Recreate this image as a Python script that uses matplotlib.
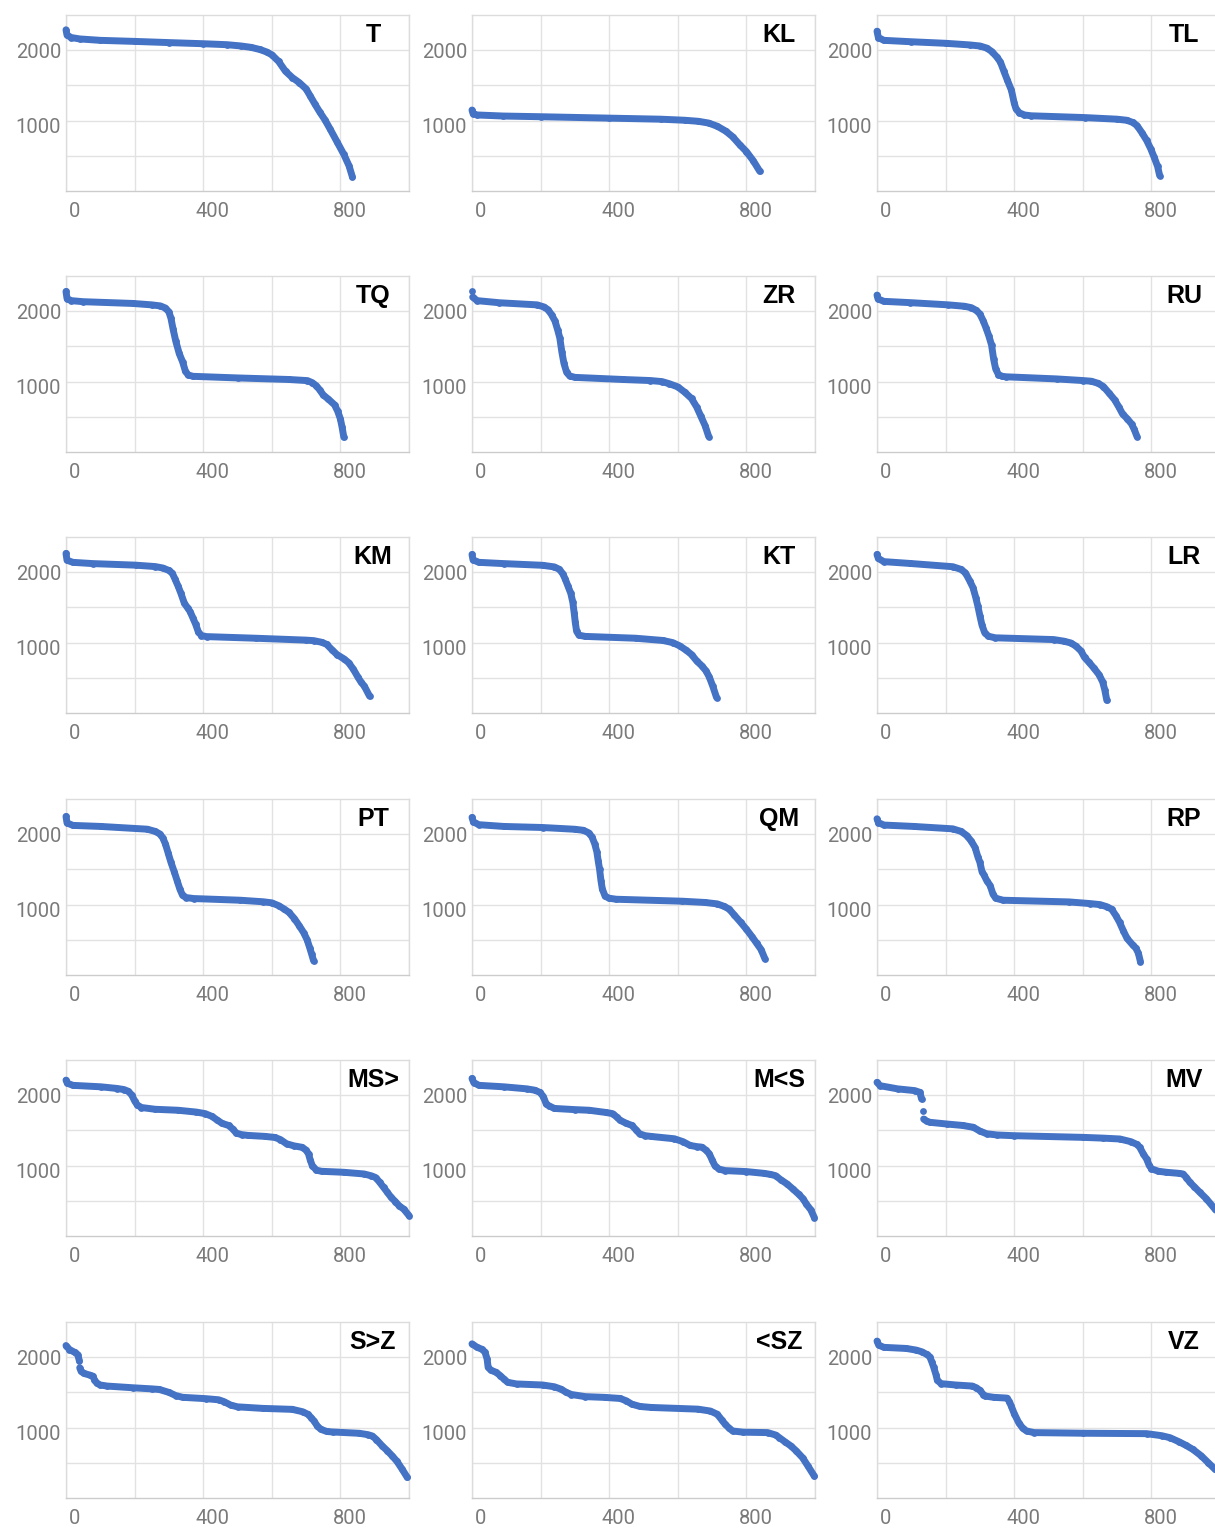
import numpy as np
import matplotlib.pyplot as plt
from matplotlib.transforms import ScaledTranslation

nan = np.nan

# ranked scores per group (rank on x, score on y); nan marks a gap between points
t_x = [0, 3, 15, 40, 100, 200, 300, 400, 470, 510, 540, 565, 585, 600, 620, 640, 660, 680, 700,
       712, 725, 740, 755, 770, 790, 810, 825, 835]
t_y = [2290, 2215, 2180, 2160, 2140, 2125, 2108, 2092, 2078, 2060, 2040, 2010, 1975, 1935, 1840, 1700, 1610, 1540, 1450,
       1350, 1240, 1120, 1010, 880, 700, 520, 360, 200]

kl_x = [0, 3, 15, 90, 200, 400, 550, 620, 660, 690, 715, 740, 760, 780, 800, 820, 839]
kl_y = [1150, 1100, 1080, 1065, 1055, 1035, 1020, 1005, 990, 965, 920, 850, 770, 660, 560, 430, 280]

tl_x = [0, 4, 20, 100, 200, 270, 300, 320, 335, 350, 360, 370, 380, 392, 400, 405, 415, 430, 450,
        605, 700, 728, 745, 758, 772, 786, 798, 808, 818, 824]
tl_y = [2270, 2180, 2140, 2120, 2098, 2075, 2060, 2030, 1980, 1900, 1830, 1700, 1575, 1430, 1250, 1170, 1110, 1080, 1068,
        1043, 1020, 1005, 975, 930, 830, 720, 600, 480, 350, 220]

tq_x = [0, 3, 15, 50, 195, 250, 275, 290, 300, 306, 312, 320, 330, 340, 348, 356, 370,
        500, 650, 704, 718, 730, 740, 750, 765, 783, 792, 800, 805, 810]
tq_y = [2280, 2180, 2150, 2135, 2110, 2090, 2075, 2045, 1990, 1900, 1750, 1575, 1400, 1280, 1150, 1095, 1075,
        1052, 1030, 1014, 985, 940, 880, 810, 750, 670, 580, 470, 350, 210]

zr_x = [0, nan, 2, 15, 80, 190, 210, 222, 232, 242, 250, 256, 262, 268, 276, 285, 300,
        440, 520, 554, 575, 600, 620, 640, 655, 667, 680, 690]
zr_y = [2290, nan, 2200, 2150, 2120, 2090, 2060, 2020, 1950, 1860, 1730, 1620, 1420, 1260, 1130, 1080, 1060,
        1030, 1015, 1000, 970, 925, 850, 760, 640, 510, 370, 220]

ru_x = [0, 3, 20, 95, 208, 255, 275, 290, 300, 310, 318, 326, 334, 340, 346, 354, 365, 377,
        524, 600, 625, 645, 660, 676, 693, 705, 716, 730, 742, 750, 758]
ru_y = [2229, 2175, 2140, 2122, 2090, 2070, 2050, 2010, 1960, 1860, 1760, 1650, 1520, 1320, 1180, 1100, 1075, 1068,
        1038, 1015, 1005, 975, 930, 840, 740, 640, 540, 470, 400, 320, 220]

km_x = [0, 3, 20, 79, 203, 260, 282, 300, 310, 318, 327, 335, 345, 355, 362, 370, 378, 386, 395, 410,
        553, 700, 722, 745, 760, 775, 790, 810, 824, 838, 851, 860, 870, 885]
km_y = [2267, 2170, 2140, 2122, 2100, 2080, 2060, 2025, 1985, 1900, 1800, 1700, 1560, 1490, 1440, 1350, 1260, 1150, 1100, 1085,
        1062, 1035, 1028, 1005, 975, 900, 830, 770, 715, 620, 510, 440, 380, 240]

kt_x = [0, 3, 20, 93, 206, 240, 255, 265, 272, 280, 288, 294, 298, 301, 305, 312, 330,
        477, 557, 585, 605, 625, 640, 655, 670, 682, 692, 702, 713]
kt_y = [2252, 2175, 2140, 2122, 2098, 2075, 2040, 1975, 1900, 1800, 1700, 1570, 1420, 1290, 1160, 1105, 1088,
        1062, 1030, 1000, 955, 890, 830, 740, 670, 600, 510, 380, 220]

lr_x = [0, 4, 20, 97, 221, 245, 258, 270, 280, 288, 294, 300, 306, 314, 325, 345,
        515, 545, 565, 580, 595, 605, 618, 632, 648, 658, 664, 670]
lr_y = [2252, 2195, 2150, 2124, 2078, 2040, 1990, 1880, 1780, 1640, 1520, 1380, 1250, 1140, 1090, 1068,
        1043, 1020, 995, 950, 880, 790, 720, 640, 540, 440, 330, 180]

pt_x = [0, 3, 20, 102, 237, 260, 273, 282, 290, 298, 306, 316, 324, 332, 340, 350, 372,
        508, 575, 600, 620, 635, 650, 666, 680, 693, 703, 711, 716, 722]
pt_y = [2252, 2160, 2125, 2110, 2071, 2040, 2005, 1950, 1860, 1730, 1600, 1460, 1340, 1220, 1130, 1100, 1086,
        1062, 1040, 1025, 985, 940, 890, 800, 700, 600, 500, 380, 300, 200]

qm_x = [0, 4, 20, 93, 206, 300, 325, 340, 350, 358, 364, 368, 372, 376, 380, 388, 400, 421,
        613, 680, 715, 735, 750, 765, 783, 800, 817, 830, 843, 854]
qm_y = [2238, 2175, 2135, 2110, 2095, 2070, 2055, 2020, 1960, 1860, 1750, 1620, 1500, 1340, 1220, 1120, 1090, 1076,
        1048, 1030, 1010, 975, 935, 850, 750, 650, 540, 450, 360, 230]

rp_x = [0, 4, 20, 108, 221, 245, 262, 275, 286, 294, 300, 306, 312, 320, 330, 338, 346, 368,
        560, 620, 650, 670, 684, 697, 707, 718, 729, 745, 755, 762, 768]
rp_y = [2219, 2165, 2130, 2110, 2076, 2040, 1980, 1900, 1810, 1680, 1600, 1470, 1420, 1340, 1270, 1150, 1090, 1062,
        1038, 1015, 1000, 970, 935, 840, 750, 630, 520, 430, 380, 310, 190]

ms_x = [0, 4, 20, 102, 150, 169, 182, 192, 200, 208, 220, 260, 327, 380, 406, 425, 440, 455, 474, 486,
        497, 512, 530, 580, 609, 625, 643, 665, 688, 700, 707, 712, 718, 730, 745,
        810, 869, 890, 903, 915, 926, 937, 948, 960, 971, 985, 1000]
ms_y = [2214, 2170, 2140, 2119, 2095, 2080, 2055, 2000, 1920, 1860, 1825, 1800, 1786, 1760, 1738, 1700, 1650, 1600, 1570, 1520,
        1460, 1440, 1429, 1415, 1400, 1370, 1310, 1280, 1260, 1220, 1167, 1080, 1000, 935, 919,
        905, 881, 855, 830, 760, 690, 620, 548, 490, 430, 380, 290]

m_s_x = [0, 5, 20, 93, 160, 183, 198, 208, 216, 224, 240, 300, 342, 390, 410, 422, 432, 450, 466, 478,
         489, 505, 523, 590, 615, 636, 655, 670, 682, 692, 700, 708, 720, 738,
         800, 851, 870, 885, 900, 919, 935, 952, 965, 975, 988, 998]
m_s_y = [2238, 2180, 2140, 2119, 2090, 2071, 2040, 1980, 1880, 1850, 1812, 1795, 1786, 1755, 1738, 1690, 1643, 1600, 1571, 1510,
         1450, 1425, 1414, 1381, 1340, 1286, 1270, 1262, 1220, 1167, 1080, 1000, 950, 929,
         915, 890, 875, 857, 800, 738, 670, 595, 530, 452, 370, 262]

mv_x = [0, 9, 60, 110, 125, 130, nan, 133, nan, 136, 145, 154, 203, 250, 281, 300, 320, 350, 398,
        601, 660, 708, 740, 758, 766, 776, 786, 793, 800, 820, 844, 880, 892, 902, 912, 925, 941, 960, 985, 1000]
mv_y = [2183, 2135, 2090, 2065, 2041, 1946, nan, 1780, nan, 1662, 1630, 1615, 1591, 1570, 1544, 1490, 1452, 1435, 1425,
        1401, 1390, 1378, 1340, 1300, 1260, 1170, 1094, 1010, 955, 920, 905, 890, 881, 830, 763, 700, 621, 530, 384, 300]

s_z_x = [0, 10, 25, 34, 39, nan, 40, 44, 52, 70, 78, 83, 90, 100, 120, 194, 250, 272, 300, 320, 340,
         408, 445, 460, 480, 500, 573, 660, 690, 705, 715, 723, 733, 743, 760, 777,
         855, 880, 893, 905, 922, 937, 951, 965, 980, 995]
s_z_y = [2166, 2109, 2070, 2038, 1950, nan, 1850, 1800, 1770, 1745, 1731, 1680, 1630, 1605, 1590, 1566, 1550, 1542, 1500, 1455, 1430,
         1411, 1395, 1370, 1320, 1295, 1273, 1259, 1225, 1190, 1140, 1094, 1020, 976, 945, 938,
         919, 900, 881, 830, 739, 670, 598, 520, 409, 292]

sz_x = [0, 14, 30, 38, 44, 47, 55, 70, 82, 93, 104, 130, 206, 240, 260, 275, 290, 330, 387, 432, 450, 466, 490, 523,
        659, 695, 715, 728, 738, 750, 760, 790, 862, 885, 896, 912, 930, 945, 964, 980, 998]
sz_y = [2190, 2143, 2110, 2070, 1976, 1857, 1815, 1786, 1740, 1690, 1643, 1620, 1605, 1580, 1545, 1500, 1470, 1440, 1429, 1414, 1380, 1333, 1300, 1286,
        1262, 1235, 1190, 1110, 1048, 990, 952, 935, 929, 895, 857, 800, 738, 670, 571, 450, 310]

vz_x = [0, 5, 20, 86, 115, 131, 145, 154, 160, 165, 172, 176, 187, 230, 278, 290, 300, 310, 316, 340, 379,
        386, 391, 400, 413, 425, 436, 458, 600, 786, 830, 854, 880, 900, 921, 945, 966, 985, 1000]
vz_y = [2229, 2171, 2140, 2124, 2100, 2076, 2040, 2005, 1930, 1862, 1750, 1671, 1624, 1605, 1590, 1565, 1529, 1470, 1448, 1430, 1419,
        1370, 1310, 1200, 1071, 990, 952, 929, 920, 914, 885, 857, 800, 750, 690, 600, 500, 410, 357]

names = ["T", "KL", "TL", "TQ", "ZR", "RU", "KM", "KT", "LR",
         "PT", "QM", "RP", "MS>", "M<S", "MV", "S>Z", "<SZ", "VZ"]
series = [(t_x, t_y), (kl_x, kl_y), (tl_x, tl_y), (tq_x, tq_y), (zr_x, zr_y), (ru_x, ru_y),
          (km_x, km_y), (kt_x, kt_y), (lr_x, lr_y), (pt_x, pt_y), (qm_x, qm_y), (rp_x, rp_y),
          (ms_x, ms_y), (m_s_x, m_s_y), (mv_x, mv_y), (s_z_x, s_z_y), (sz_x, sz_y), (vz_x, vz_y)]

x_ticks = [0, 400, 800]
y_ticks = [1000, 2000]

W, H = 1215, 1530
fig = plt.figure(figsize=(W / 100, H / 100), dpi=100)

col_left = [66, 472, 877]
row_top = [15, 276, 537, 799, 1060, 1322]
ax_w, ax_h = 343, 176
blue = '#4472c4'
grid_c = '#e2e2e2'

for i, (name, (xs, ys)) in enumerate(zip(names, series)):
    r, c = divmod(i, 3)
    ax = fig.add_axes([col_left[c] / W, 1 - (row_top[r] + ax_h) / H, ax_w / W, ax_h / H])
    ax.plot(xs, ys, '-o', color=blue, lw=5.0, ms=4.9, mew=0,
            solid_capstyle='round', solid_joinstyle='round', clip_on=False, zorder=3)
    ax.set_xlim(0, 1000)
    ax.set_ylim(0, 2500)
    ax.set_xticks(x_ticks)
    ax.set_xticks([200, 600, 1000], minor=True)
    ax.set_yticks(y_ticks)
    ax.set_yticks([500, 1500], minor=True)
    ax.grid(True, which='both', color=grid_c, lw=1)
    ax.set_axisbelow(True)
    ax.tick_params(which='both', length=0)
    ax.tick_params(axis='x', pad=8, labelsize=14.5, labelcolor='#7a7a7a')
    ax.tick_params(axis='y', pad=3.5, labelsize=14.5, labelcolor='#7a7a7a')
    for lab in ax.get_xticklabels() + ax.get_yticklabels():
        lab.set_family('Roboto')
    for lab in ax.get_xticklabels():
        lab.set_transform(lab.get_transform() + ScaledTranslation(0.09, 0, fig.dpi_scale_trans))
    ylabs = ax.get_yticklabels()
    ylabs[0].set_transform(ylabs[0].get_transform() + ScaledTranslation(0, -0.05, fig.dpi_scale_trans))
    for s in ax.spines.values():
        s.set_color('#dcdcdc')
        s.set_linewidth(1)
    ax.spines['bottom'].set_color('#cccccc')
    ax.text(0.895, 0.889, name, transform=ax.transAxes, ha='center', va='center',
            fontsize=18, fontweight='bold', family='Liberation Sans', color='black')

fig.savefig('out.png', dpi=100, facecolor='white')
